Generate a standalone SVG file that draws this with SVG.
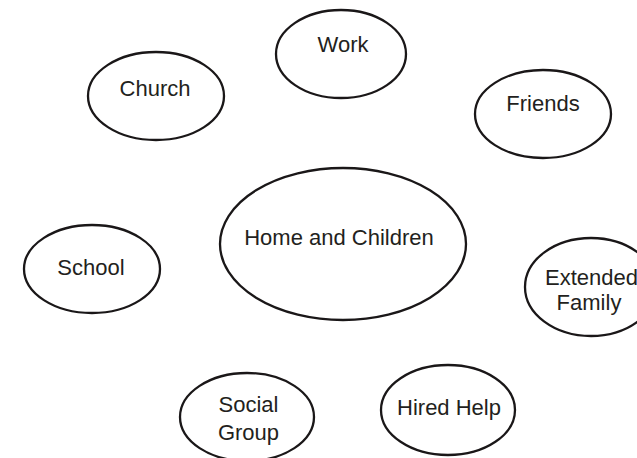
<svg xmlns="http://www.w3.org/2000/svg" width="637" height="458" viewBox="0 0 637 458">
<style>
.n ellipse{fill:#fff;stroke:#1a1718;stroke-width:2.3}
.n text{font-family:"Liberation Sans",Arial,sans-serif;font-size:22px;fill:#231f20;text-anchor:middle}
</style>
<rect width="637" height="458" fill="#fff"/>
<g id="connectors"/>
<g id="work" class="n"><ellipse cx="341" cy="54" rx="65" ry="44"/><text x="343" y="52">Work</text></g>
<g id="church" class="n"><ellipse cx="156" cy="96" rx="68" ry="44"/><text x="155" y="96">Church</text></g>
<g id="friends" class="n"><ellipse cx="543" cy="114" rx="68" ry="44"/><text x="543" y="111">Friends</text></g>
<g id="home" class="n"><ellipse cx="343" cy="244" rx="123" ry="76"/><text x="339" y="245">Home and Children</text></g>
<g id="school" class="n"><ellipse cx="92" cy="269" rx="68" ry="44"/><text x="91" y="275">School</text></g>
<g id="extended" class="n"><ellipse cx="591" cy="287" rx="66" ry="49"/><text x="591.5" y="285">Extended</text><text x="589" y="310">Family</text></g>
<g id="social" class="n"><ellipse cx="247" cy="417" rx="67" ry="44"/><text x="248.5" y="412">Social</text><text x="248.5" y="440">Group</text></g>
<g id="hired" class="n"><ellipse cx="448" cy="410" rx="67" ry="45"/><text x="449" y="415">Hired Help</text></g>
</svg>
